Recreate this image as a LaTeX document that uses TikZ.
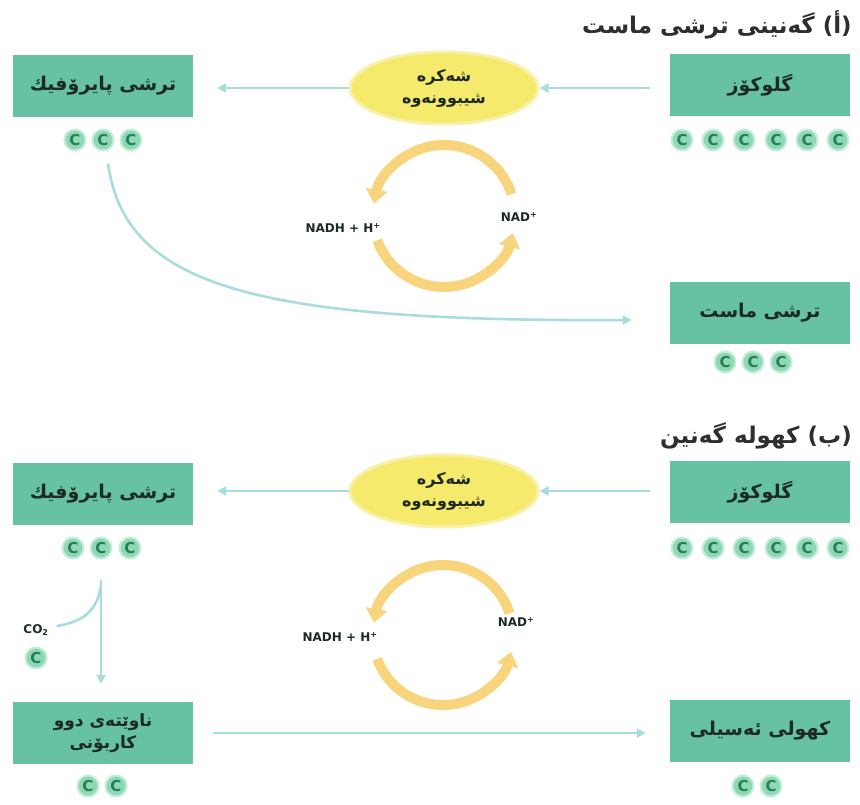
\documentclass[tikz,border=0pt]{standalone}
\usepackage{fontspec}
\usetikzlibrary{arrows.meta,shapes.geometric}
\TeXXeTstate=1
\newfontfamily\arabicfont[Script=Arabic]{DejaVu Sans}
\newfontfamily\latinsans{DejaVu Sans}
\definecolor{boxgreen}{HTML}{66C2A0}
\definecolor{textdark}{HTML}{1C2A23}
\definecolor{flowblue}{HTML}{A9DCDC}
\definecolor{ellyellow}{HTML}{F6EA6C}
\definecolor{ellrim}{HTML}{F9F0A8}
\definecolor{cycyellow}{HTML}{F8D57C}
\definecolor{cfill}{HTML}{8ED8B5}
\definecolor{chalo}{HTML}{C4EDD9}
\definecolor{cdark}{HTML}{267F55}
\definecolor{titlegray}{HTML}{2E2E2E}
\tikzset{
  boxnode/.style={rectangle, fill=boxgreen, minimum width=180pt, minimum height=62pt,
    inner sep=0pt, text=textdark, align=center,
    font=\arabicfont\bfseries\fontsize{19}{25}\selectfont},
  twoline/.style={font=\arabicfont\bfseries\fontsize{17}{22}\selectfont},
  ellnode/.style={ellipse, fill=ellyellow, draw=ellrim, line width=3pt,
    minimum width=188pt, minimum height=72pt, inner sep=0pt, text=textdark, align=center,
    font=\arabicfont\bfseries\fontsize{16}{22}\selectfont},
  carbon/.style={circle, fill=cfill, draw=chalo, line width=2pt, minimum size=21pt,
    inner sep=0pt, text=cdark, font=\latinsans\bfseries\fontsize{15}{15}\selectfont},
  flow/.style={draw=flowblue, line width=2.6pt, -{Triangle[length=9pt,width=9pt]}},
  cycarrow/.style={draw=cycyellow, line width=10pt, -{Triangle[length=14pt,width=21pt]}},
  nadlabel/.style={text=textdark, font=\latinsans\bfseries\fontsize{12}{13}\selectfont, inner sep=1pt},
  titlenode/.style={anchor=east, text=titlegray, inner sep=0pt,
    font=\arabicfont\bfseries\fontsize{23}{27}\selectfont}
}
\begin{document}
\begin{tikzpicture}[x=1pt,y=-1pt]
\useasboundingbox (0,0) rectangle (860,804);
\fill[white] (0,0) rectangle (860,804);

% ---------- (a) lactic acid fermentation ----------
\node[titlenode] (titleA) at (852,25) {\beginR (أ) گەنینی ترشی ماست\endR};

\node[boxnode] (pyrA) at (103,86) {\beginR ترشی پایرۆفیك\endR};
\node[boxnode] (gluA) at (760,85) {\beginR گلوکۆز\endR};
\node[boxnode] (lac) at (760,313) {\beginR ترشی ماست\endR};
\node[ellnode] (glyA) at (444,88) {\beginR شەکرە\endR\\\beginR شیبوونەوە\endR};

\foreach \i/\x in {1/75,2/103,3/131} \node[carbon] (pa\i) at (\x,140) {C};
\foreach \i/\x in {1/682,2/713,3/744,4/776,5/807,6/838} \node[carbon] (ga\i) at (\x,140) {C};
\foreach \i/\x in {1/725,2/753,3/781} \node[carbon] (la\i) at (\x,362) {C};

\draw[flow] ([xshift=-20pt]gluA.west |- glyA.east) -- (glyA.east);
\draw[flow] (glyA.west) -- ([xshift=24pt]pyrA.east |- glyA.west);
\draw[flow] ([shift={(5pt,-12pt)}]pa2.south) .. controls (125,285) and (250,322) .. ([shift={(-38pt,-7pt)}]lac.west);

\coordinate (cycA) at (444,216);
\draw[cycarrow] ([shift={(-18:71)}]cycA) arc[start angle=-18, end angle=-170, radius=71];
\draw[cycarrow] ([shift={(160:71)}]cycA) arc[start angle=160, end angle=14, radius=71];
\node[nadlabel] (nadhA) at (343,228) {NADH + H\textsuperscript{+}};
\node[nadlabel] (nadA) at (519,217) {NAD\textsuperscript{+}};

% ---------- (b) alcohol fermentation ----------
\node[titlenode] (titleB) at (852,436) {\beginR (ب) کهولە گەنین\endR};

\node[boxnode] (pyrB) at (103,494) {\beginR ترشی پایرۆفیك\endR};
\node[boxnode] (gluB) at (760,492) {\beginR گلوکۆز\endR};
\node[boxnode, twoline] (two) at (103,733) {\beginR ناوێتەی دوو\endR\\\beginR کاربۆنی\endR};
\node[boxnode] (eth) at (760,731) {\beginR کهولی ئەسیلی\endR};
\node[ellnode] (glyB) at (444,491) {\beginR شەکرە\endR\\\beginR شیبوونەوە\endR};

\foreach \i/\x in {1/73,2/101,3/130} \node[carbon] (pb\i) at (\x,548) {C};
\foreach \i/\x in {1/682,2/713,3/744,4/776,5/807,6/838} \node[carbon] (gb\i) at (\x,548) {C};
\foreach \i/\x in {1/88,2/116} \node[carbon] (tc\i) at (\x,786) {C};
\foreach \i/\x in {1/743,2/771} \node[carbon] (ec\i) at (\x,786) {C};

\node[text=textdark, font=\latinsans\bfseries\fontsize{12}{13}\selectfont, inner sep=1pt] (co2) at (36,630) {CO\textsubscript{2}};
\node[carbon] (co2c) at (36,658) {C};

\draw[flow] ([yshift=-20pt]pb2.south) -- ([yshift=18pt]two.north -| pb2.south);
\draw[draw=flowblue, line width=2.6pt] ([yshift=-26pt]pb2.south) .. controls (97,612) and (82,622) .. ([shift={(7pt,4pt)}]co2.east);
\draw[flow] ([xshift=20pt]two.east) -- ([xshift=-24pt]eth.west |- two.east);

\draw[flow] ([xshift=-20pt]gluB.west |- glyB.east) -- (glyB.east);
\draw[flow] (glyB.west) -- ([xshift=24pt]pyrB.east |- glyB.west);

\coordinate (cycB) at (443,635);
\draw[cycarrow] ([shift={(-18:70)}]cycB) arc[start angle=-18, end angle=-170, radius=70];
\draw[cycarrow] ([shift={(160:70)}]cycB) arc[start angle=160, end angle=14, radius=70];
\node[nadlabel] (nadhB) at (340,637) {NADH + H\textsuperscript{+}};
\node[nadlabel] (nadB) at (516,622) {NAD\textsuperscript{+}};
\end{tikzpicture}
\end{document}
